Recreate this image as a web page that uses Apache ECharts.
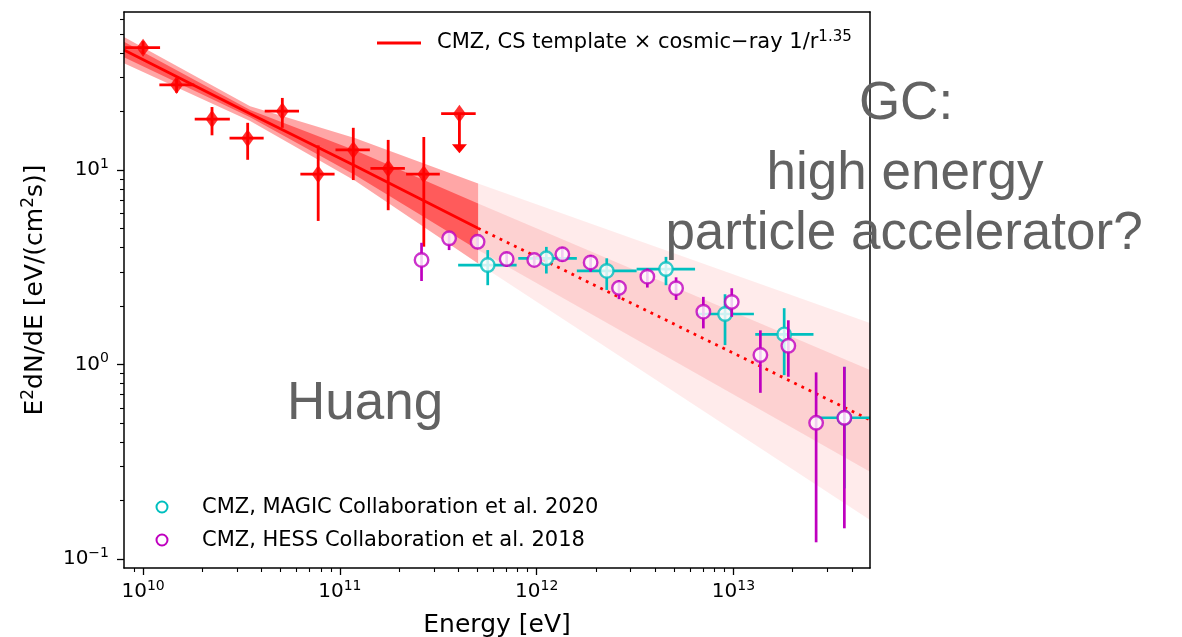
<!DOCTYPE html>
<html><head><meta charset="utf-8">
<script src="https://cdn.jsdelivr.net/npm/echarts@6/dist/echarts.min.js"></script>
<style>html,body{margin:0;padding:0;background:#fff}#c{width:1182px;height:637px}</style>
</head><body><div id="c"></div>
<script>
// ---------- tick labels ----------
const xMajorTicks = [1e10, 1e11, 1e12, 1e13];
const xMajorExp = ['10', '11', '12', '13'];
const xMinorTicks = [9e9, 2e10, 3e10, 4e10, 5e10, 6e10, 7e10, 8e10, 9e10,
  2e11, 3e11, 4e11, 5e11, 6e11, 7e11, 8e11, 9e11,
  2e12, 3e12, 4e12, 5e12, 6e12, 7e12, 8e12, 9e12,
  2e13, 3e13, 4e13];
const yMajorTicks = [0.1, 1, 10];
const yMajorExp = ['\u22121', '0', '1'];
const yMinorTicks = [0.2, 0.3, 0.4, 0.5, 0.6, 0.7, 0.8, 0.9, 2, 3, 4, 5, 6, 7, 8, 9, 20, 30, 40, 50, 60];

// ---------- Fermi (red) ----------
const fermiE   = [1.0e10, 1.48e10, 2.24e10, 3.4e10, 5.1e10, 7.76e10, 1.17e11, 1.76e11, 2.67e11];
const fermiF   = [42.6, 27.4, 18.3, 14.6, 20.1, 9.53, 12.7, 10.2, 9.53];
const fermiFLo = [39.5, 25.0, 15.1, 11.3, 16.5, 5.48, 8.89, 6.22, 4.04];
const fermiFHi = [46.0, 29.5, 21.1, 17.5, 23.5, 13.4, 16.5, 14.3, 14.8];
const fermiELo = [8.1e9, 1.21e10, 1.83e10, 2.75e10, 4.15e10, 6.3e10, 9.5e10, 1.43e11, 2.17e11];
const fermiEHi = [1.22e10, 1.82e10, 2.76e10, 4.1e10, 6.2e10, 9.4e10, 1.42e11, 2.14e11, 3.22e11];
// upper limit
const ulE = [4.05e11], ulF = [19.5], ulTip = [12.2], ulELo = [3.27e11], ulEHi = [4.9e11];

// ---------- HESS (magenta) ----------
const hessE   = [2.60e11, 3.59e11, 5.01e11, 7.04e11, 9.72e11, 1.35e12, 1.88e12, 2.62e12, 3.65e12, 5.11e12, 7.03e12, 9.80e12, 1.37e13, 1.90e13, 2.63e13, 3.66e13];
const hessF   = [3.45, 4.46, 4.28, 3.49, 3.45, 3.69, 3.35, 2.48, 2.83, 2.47, 1.87, 2.10, 1.12, 1.25, 0.502, 0.533];
const hessFLo = [2.69, 3.88, 4.00, 3.18, 3.25, 3.38, 3.00, 2.17, 2.49, 2.15, 1.535, 1.76, 0.716, 0.866, 0.122, 0.144];
const hessFHi = [4.23, 4.82, 4.55, 3.80, 3.65, 4.03, 3.66, 2.72, 3.12, 2.81, 2.23, 2.47, 1.50, 1.69, 0.912, 0.974];

// ---------- MAGIC (cyan) ----------
const magicE   = [5.64e11, 1.12e12, 2.27e12, 4.54e12, 9.06e12, 1.81e13, 3.66e13];
const magicF   = [3.25, 3.52, 3.03, 3.10, 1.82, 1.43, 0.533];
const magicELo = [3.99e11, 8.06e11, 1.60e12, 3.22e12, 6.51e12, 1.29e13, 2.65e13];
const magicEHi = [7.91e11, 1.60e12, 3.22e12, 6.38e12, 1.27e13, 2.55e13, 5.2e13];
const magicFLo = [2.56, 2.94, 2.42, 2.56, 1.26, 0.883, 0.231];
const magicFHi = [3.88, 4.03, 3.52, 3.58, 2.30, 1.95, 0.974];

// ---------- model (CS template x CR 1/r^1.35) ----------
const modelSolidE = [8e9, 3.5e10, 1.2e11, 5.04e11];
const modelSolidF = [41.4, 19.5, 10.5, 5.03];
const solidOuterHi = [48.4, 21.3, 14.6, 8.54];
const solidInnerHi = [45.7, 20.4, 12.6, 6.74];
const solidInnerLo = [38.0, 18.7, 9.4, 3.88];
const solidOuterLo = [35.4, 17.9, 8.8, 3.31];

const modelExtE = [5.04e11, 4.94e13];
const modelExtF = [5.03, 0.519];
const extOuterHi = [8.54, 1.635];
const extInnerHi = [6.74, 0.937];
const extInnerLo = [3.88, 0.281];
const extOuterLo = [3.31, 0.159];

// ---------- colors ----------
const RED = '#ff0000', MAG = '#bf00bf', CYA = '#00bfbf';
const FONT = 'DejaVu Sans';

function bandSeries(Es, lo, hi, fill, z) {
  return {
    type: 'custom', z: z, clip: true, silent: true,
    data: Es.map((e, i) => [e, lo[i], hi[i]]),
    encode: { x: 0, y: [1, 2] },
    renderItem: function (params, api) {
      if (params.dataIndex !== 0) return null;
      const pts = [];
      for (let i = 0; i < Es.length; i++) pts.push(api.coord([Es[i], hi[i]]));
      for (let i = Es.length - 1; i >= 0; i--) pts.push(api.coord([Es[i], lo[i]]));
      return { type: 'polygon', shape: { points: pts }, style: { fill: fill } };
    }
  };
}

function errSeries(E, F, ELo, EHi, FLo, FHi, color, w, z) {
  return {
    type: 'custom', z: z, clip: true, silent: true,
    data: E.map((e, i) => [e, F[i], ELo ? ELo[i] : 0, EHi ? EHi[i] : 0, FLo[i], FHi[i]]),
    encode: { x: 0, y: 1 },
    renderItem: function (params, api) {
      const f = api.value(1);
      const ch = [];
      const xl = api.value(2), xh = api.value(3), yl = api.value(4), yh = api.value(5);
      if (xl > 0 && xh > 0) {
        const a = api.coord([xl, f]), b = api.coord([xh, f]);
        ch.push({ type: 'line', shape: { x1: a[0], y1: a[1], x2: b[0], y2: b[1] }, style: { stroke: color, lineWidth: w } });
      }
      const e = api.value(0);
      const c = api.coord([e, yl]), d = api.coord([e, yh]);
      ch.push({ type: 'line', shape: { x1: c[0], y1: c[1], x2: d[0], y2: d[1] }, style: { stroke: color, lineWidth: w } });
      return { type: 'group', children: ch };
    }
  };
}

function supLabel(base, exp) {
  return '{b|' + base + '}{s|' + exp + '}';
}
const tickRich = {
  b: { fontFamily: FONT, fontSize: 20, lineHeight: 26, color: '#000' },
  s: { fontFamily: FONT, fontSize: 14, lineHeight: 14, color: '#000', verticalAlign: 'top' }
};
function findIdx(arr, v) {
  for (let i = 0; i < arr.length; i++) if (Math.abs(Math.log10(arr[i]) - Math.log10(v)) < 1e-6) return i;
  return -1;
}

const xMin = 8e9, xMax = 4.94e13, yMin = 0.09, yMax = 65;
const axisLineStyle = { color: '#000', width: 1.5 };

const option = {
  animation: false,
  backgroundColor: '#fff',
  grid: { left: 124, top: 12, width: 746, height: 556, containLabel: false, outerBoundsMode: 'none' },
  xAxis: [
    {
      type: 'log', logBase: 10, min: xMin, max: xMax, position: 'bottom', z: 10,
      axisLine: { show: true, onZero: false, lineStyle: axisLineStyle },
      axisTick: { show: true, length: 7, customValues: xMajorTicks, lineStyle: { color: '#000', width: 1.3 } },
      axisLabel: {
        show: true, margin: 11, customValues: xMajorTicks, rich: tickRich,
        formatter: function (v) { const i = findIdx(xMajorTicks, v); return i < 0 ? '' : supLabel('10', xMajorExp[i]); }
      },
      splitLine: { show: false },
      name: 'Energy [eV]', nameLocation: 'middle', nameGap: 45,
      nameTextStyle: { fontFamily: FONT, fontSize: 25, color: '#000' }
    },
    {
      type: 'log', logBase: 10, min: xMin, max: xMax, position: 'bottom', z: 10,
      axisLine: { show: false },
      axisTick: { show: true, length: 4, customValues: xMinorTicks, lineStyle: { color: '#000', width: 1.1 } },
      axisLabel: { show: false }, splitLine: { show: false }
    },
    {
      type: 'log', logBase: 10, min: xMin, max: xMax, position: 'top', z: 10,
      axisLine: { show: true, onZero: false, lineStyle: axisLineStyle },
      axisTick: { show: false }, axisLabel: { show: false }, splitLine: { show: false }
    }
  ],
  yAxis: [
    {
      type: 'log', logBase: 10, min: yMin, max: yMax, position: 'left', z: 10,
      axisLine: { show: true, onZero: false, lineStyle: axisLineStyle },
      axisTick: { show: true, length: 7, customValues: yMajorTicks, lineStyle: { color: '#000', width: 1.3 } },
      axisLabel: {
        show: true, margin: 15, customValues: yMajorTicks, rich: tickRich,
        formatter: function (v) { const i = findIdx(yMajorTicks, v); return i < 0 ? '' : supLabel('10', yMajorExp[i]); }
      },
      splitLine: { show: false },
      name: '{b|E}{s|2}{b|dN/dE [eV/(cm}{s|2}{b|s)]}', nameLocation: 'middle', nameGap: 73, nameRotate: 90,
      nameTextStyle: {
        rich: {
          b: { fontFamily: FONT, fontSize: 25, lineHeight: 31, color: '#000' },
          s: { fontFamily: FONT, fontSize: 17, lineHeight: 17, color: '#000', verticalAlign: 'top' }
        }
      }
    },
    {
      type: 'log', logBase: 10, min: yMin, max: yMax, position: 'left', z: 10,
      axisLine: { show: false },
      axisTick: { show: true, length: 4, customValues: yMinorTicks, lineStyle: { color: '#000', width: 1.1 } },
      axisLabel: { show: false }, splitLine: { show: false }
    },
    {
      type: 'log', logBase: 10, min: yMin, max: yMax, position: 'right', z: 10,
      axisLine: { show: true, onZero: false, lineStyle: axisLineStyle },
      axisTick: { show: false }, axisLabel: { show: false }, splitLine: { show: false }
    }
  ],
  series: [
    bandSeries(modelSolidE, solidOuterLo, solidOuterHi, 'rgba(255,0,0,0.35)', 1),
    bandSeries(modelSolidE, solidInnerLo, solidInnerHi, 'rgba(255,0,0,0.45)', 1),
    bandSeries(modelExtE, extOuterLo, extOuterHi, 'rgba(255,0,0,0.08)', 1),
    bandSeries(modelExtE, extInnerLo, extInnerHi, 'rgba(240,0,0,0.11)', 1),
    {
      type: 'line', z: 3, silent: true, showSymbol: false, symbol: 'none',
      data: modelSolidE.map((e, i) => [e, modelSolidF[i]]),
      lineStyle: { color: RED, width: 2.8 }
    },
    {
      type: 'line', z: 3, silent: true, showSymbol: false, symbol: 'none',
      data: modelExtE.map((e, i) => [e, modelExtF[i]]),
      lineStyle: { color: RED, width: 2.8, type: [2.8, 5.2] }
    },
    errSeries(fermiE, fermiF, fermiELo, fermiEHi, fermiFLo, fermiFHi, RED, 2.8, 4),
    {
      type: 'scatter', z: 5, silent: true, symbol: 'diamond', symbolSize: [13, 18],
      data: fermiE.map((e, i) => [e, fermiF[i]]),
      itemStyle: { color: RED }
    },
    {
      type: 'custom', z: 4, clip: true, silent: true,
      data: ulE.map((e, i) => [e, ulF[i], ulTip[i], ulELo[i], ulEHi[i]]),
      encode: { x: 0, y: 1 },
      renderItem: function (params, api) {
        const p = api.coord([api.value(0), api.value(1)]);
        const t = api.coord([api.value(0), api.value(2)]);
        const a = api.coord([api.value(3), api.value(1)]);
        const b = api.coord([api.value(4), api.value(1)]);
        const headH = 9, headW = 7.5;
        return {
          type: 'group', children: [
            { type: 'line', shape: { x1: a[0], y1: a[1], x2: b[0], y2: b[1] }, style: { stroke: RED, lineWidth: 2.8 } },
            { type: 'line', shape: { x1: p[0], y1: p[1], x2: t[0], y2: t[1] - headH + 1 }, style: { stroke: RED, lineWidth: 2.8 } },
            { type: 'polygon', shape: { points: [[t[0] - headW, t[1] - headH], [t[0] + headW, t[1] - headH], [t[0], t[1]]] }, style: { fill: RED } }
          ]
        };
      }
    },
    {
      type: 'scatter', z: 5, silent: true, symbol: 'diamond', symbolSize: [13, 18],
      data: ulE.map((e, i) => [e, ulF[i]]),
      itemStyle: { color: RED }
    },
    errSeries(magicE, magicF, magicELo, magicEHi, magicFLo, magicFHi, CYA, 2.7, 6),
    {
      type: 'scatter', z: 7, silent: true, symbol: 'circle', symbolSize: 13.5,
      data: magicE.map((e, i) => [e, magicF[i]]),
      itemStyle: { color: '#fff', borderColor: CYA, borderWidth: 2.4 }
    },
    errSeries(hessE, hessF, null, null, hessFLo, hessFHi, MAG, 2.7, 8),
    {
      type: 'scatter', z: 9, silent: true, symbol: 'circle', symbolSize: 13.5,
      data: hessE.map((e, i) => [e, hessF[i]]),
      itemStyle: { color: '#fff', borderColor: MAG, borderWidth: 2.4 }
    }
  ],
  graphic: [
    // legend (model)
    { type: 'line', z: 20, shape: { x1: 377, y1: 43, x2: 421, y2: 43 }, style: { stroke: RED, lineWidth: 2.8 } },
    {
      type: 'text', z: 20, x: 437, y: 43,
      style: {
        text: '{b|CMZ, CS template \u00d7 cosmic\u2212ray 1/r}{s|1.35}',
        verticalAlign: 'middle', align: 'left',
        rich: {
          b: { fontFamily: FONT, fontSize: 21, lineHeight: 27, fill: '#000' },
          s: { fontFamily: FONT, fontSize: 15, lineHeight: 15, fill: '#000', verticalAlign: 'top' }
        }
      }
    },
    // legend (data)
    { type: 'circle', z: 20, shape: { cx: 162, cy: 507, r: 5.5 }, style: { fill: '#fff', stroke: CYA, lineWidth: 2 } },
    { type: 'text', z: 20, x: 202, y: 508, style: { text: 'CMZ, MAGIC Collaboration et al. 2020', font: '21px "DejaVu Sans"', fill: '#000', verticalAlign: 'middle' } },
    { type: 'circle', z: 20, shape: { cx: 162, cy: 540, r: 5.5 }, style: { fill: '#fff', stroke: MAG, lineWidth: 2 } },
    { type: 'text', z: 20, x: 202, y: 541, style: { text: 'CMZ, HESS Collaboration et al. 2018', font: '21px "DejaVu Sans"', fill: '#000', verticalAlign: 'middle' } },
    // overlay annotations
    { type: 'text', z: 30, x: 906, y: 104, style: { text: 'GC:', font: '53px "Liberation Sans"', fill: '#626262', align: 'center', verticalAlign: 'middle' } },
    { type: 'text', z: 30, x: 905, y: 174, style: { text: 'high energy', font: '53px "Liberation Sans"', fill: '#626262', align: 'center', verticalAlign: 'middle' } },
    { type: 'text', z: 30, x: 904, y: 234, style: { text: 'particle accelerator?', font: '53px "Liberation Sans"', fill: '#626262', align: 'center', verticalAlign: 'middle' } },
    { type: 'text', z: 30, x: 287, y: 404, style: { text: 'Huang', font: '53px "Liberation Sans"', fill: '#626262', align: 'left', verticalAlign: 'middle' } }
  ]
};

const chart = echarts.init(document.getElementById('c'), null, { renderer: 'canvas' });
chart.setOption(option);
</script>
</body></html>
